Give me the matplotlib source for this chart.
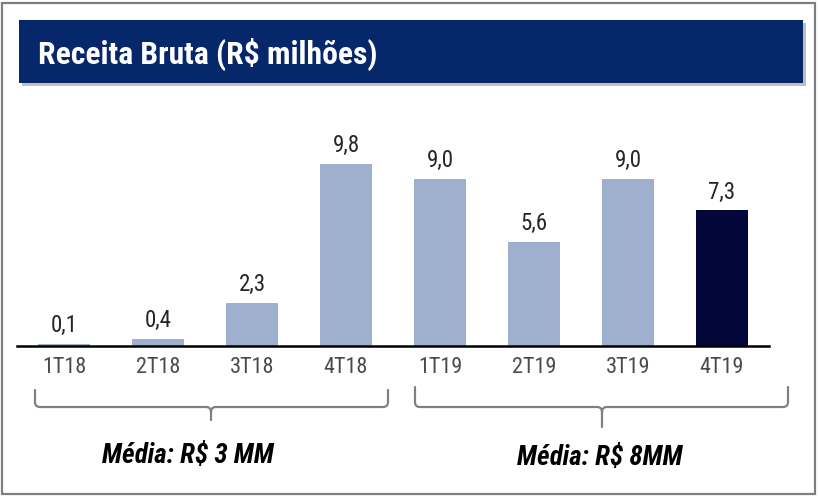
import matplotlib
matplotlib.use("Agg")
import matplotlib.pyplot as plt
from matplotlib import font_manager
from matplotlib.patches import Rectangle, PathPatch
from matplotlib.path import Path

categories = ["1T18", "2T18", "3T18", "4T18", "1T19", "2T19", "3T19", "4T19"]
values = [0.1, 0.4, 2.3, 9.8, 9.0, 5.6, 9.0, 7.3]
value_labels = ["0,1", "0,4", "2,3", "9,8", "9,0", "5,6", "9,0", "7,3"]
title = "Receita Bruta (R$ milhões)"
avg_labels = ["Média: R$ 3 MM", "Média: R$ 8MM"]

LIGHT = "#9EB0CE"
DARK = "#020638"
colors = [LIGHT] * 7 + [DARK]

names = {f.name for f in font_manager.fontManager.ttflist}
narrow = None
for cand in ["Liberation Sans Narrow", "Arial Narrow", "DejaVu Sans Condensed",
             "Roboto Condensed", "Open Sans Condensed"]:
    if cand in names:
        narrow = cand
        break
if narrow:
    FONT = [narrow, "Liberation Sans", "DejaVu Sans"]
    k = 1.18
else:
    FONT = ["Liberation Sans", "DejaVu Sans"]
    k = 1.0

W, H = 818, 498
fig = plt.figure(figsize=(W / 100, H / 100), dpi=100)
fig.patch.set_facecolor("white")

def fx(x):
    return x / W

def fy(y):
    return 1 - y / H

# outer border
fig.patches.append(Rectangle((fx(2), fy(494)), fx(813), (494 - 3) / H,
                             transform=fig.transFigure, fill=False,
                             edgecolor="#7F7F7F", linewidth=1.6))

# title bar shadow and bar
fig.patches.append(Rectangle((fx(22), fy(86)), fx(784), 63 / H,
                             transform=fig.transFigure, facecolor="#B0B0B0",
                             edgecolor="none", alpha=0.8))
fig.patches.append(Rectangle((fx(19), fy(83)), fx(784), 63 / H,
                             transform=fig.transFigure, facecolor="#06276A",
                             edgecolor="none"))
fig.text(fx(38), fy(54), title, color="white", fontsize=19.3 * k, fontweight="bold",
         family=FONT, ha="left", va="center")

# axes
left, right, bottom, top = 17, 769, 346, 110
ax = fig.add_axes([fx(left), fy(bottom), fx(right - left), (bottom - top) / H])
x = range(len(categories))
bars = ax.bar(x, values, width=0.553, color=colors, zorder=2)
ax.set_xlim(-0.5, len(categories) - 0.5)
ax.set_ylim(0, (bottom - top) / 18.57)
for s in ["top", "right", "left"]:
    ax.spines[s].set_visible(False)
ax.spines["bottom"].set_linewidth(1.8)
ax.spines["bottom"].set_color("black")
ax.set_yticks([])
ax.set_xticks(list(x))
ax.set_xticklabels(categories, fontsize=(13.5 if not narrow else 16), color="#4A4A4A",
                   family=FONT)
ax.tick_params(axis="x", length=0, pad=8)
ax.set_facecolor("none")

for b, lab in zip(bars, value_labels):
    ax.annotate(lab, (b.get_x() + b.get_width() / 2, b.get_height()),
                xytext=(0, 5), textcoords="offset points", ha="center",
                va="bottom", fontsize=14 * k, color="#262626", family=FONT)

# brackets
def bracket(x0, x1, xm, ytop, yline, ytip, r=5):
    verts = [
        (x0, ytop), (x0, yline - r),
        (x0, yline), (x0 + r, yline),
        (xm - r, yline),
        (xm, yline), (xm, yline + r),
        (xm, ytip),
        (xm, yline + r),
        (xm, yline), (xm + r, yline),
        (x1 - r, yline),
        (x1, yline), (x1, yline - r),
        (x1, ytop),
    ]
    codes = [Path.MOVETO, Path.LINETO, Path.CURVE3, Path.CURVE3, Path.LINETO,
             Path.CURVE3, Path.CURVE3, Path.LINETO, Path.MOVETO,
             Path.CURVE3, Path.CURVE3, Path.LINETO, Path.CURVE3, Path.CURVE3,
             Path.LINETO]
    verts = [(fx(a), fy(b)) for a, b in verts]
    fig.patches.append(PathPatch(Path(verts, codes), transform=fig.transFigure,
                                 fill=False, edgecolor="#808080", linewidth=1.6,
                                 capstyle="round"))

bracket(35, 388, 211, 390, 407, 420)
bracket(415, 788, 602, 387, 407, 427)

msize = 19.5 if narrow else 17.5
fig.text(fx(188), fy(455), avg_labels[0], fontsize=msize,
         fontweight="bold", fontstyle="italic", family=FONT, ha="center",
         va="center", color="black")
fig.text(fx(600), fy(457), avg_labels[1], fontsize=msize,
         fontweight="bold", fontstyle="italic", family=FONT, ha="center",
         va="center", color="black")

fig.savefig("out.png", dpi=100)
